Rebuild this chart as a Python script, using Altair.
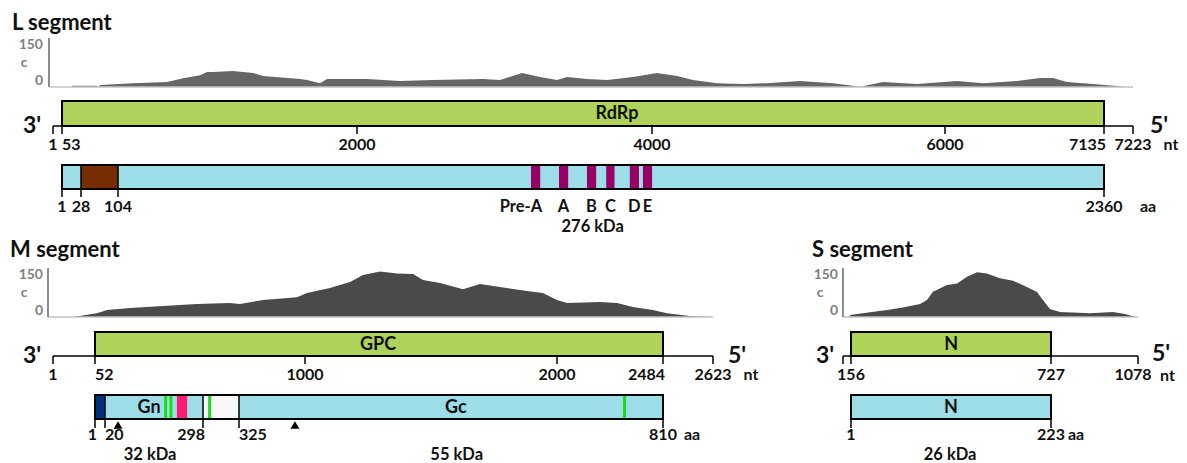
import altair as alt
import pandas as pd

# ---------------- data ----------------
# L segment
L_cov_nt = [119, 284, 295, 304, 522, 746, 852, 964, 1010, 1050, 1182, 1314, 1380, 1624, 1670, 1756, 1802,
            2068, 2292, 2515, 2854, 2970, 3119, 3241, 3356, 3424, 3559, 3695, 3871, 4034, 4171, 4280, 4444,
            4621, 4785, 5010, 5235, 5420, 5577, 5809, 6086, 6271, 6514, 6678, 6771, 6871, 7056, 7174, 7199]
L_cov_c = [4, 4, 0, 6, 12, 16, 27, 37, 47, 47, 50, 44, 34, 25, 22, 12, 25,
           25, 19, 22, 25, 22, 44, 31, 22, 31, 25, 22, 31, 44, 34, 22, 12,
           9, 12, 19, 12, 1, 16, 9, 19, 12, 19, 28, 28, 16, 9, 3, 0]
L_nt_ticks = [1, 53, 2000, 4000, 6000, 7135, 7223]
L_nt_labels = ["1", "53", "2000", "4000", "6000", "7135", "7223"]
L_nt_align = ["center", "left", "center", "center", "center", "right", "center"]
L_orf = [53, 7135]
L_orf_name = "RdRp"
L_aa_ticks = [1, 28, 104, 2360]
L_aa_labels = ["1", "28", "104", "2360"]
L_aa_align = ["center", "center", "center", "center"]
L_domain = [28, 104]
L_motif_names = ["Pre-A", "A", "B", "C", "D", "E"]
L_motif_start = [1049, 1113, 1177, 1221, 1275, 1305]
L_motif_end = [1070, 1134, 1198, 1240, 1296, 1326]
L_kda = "276 kDa"

# M segment
M_cov_nt = [25, 61, 106, 210, 359, 512, 661, 706, 810, 964, 1008, 1099, 1179, 1230, 1298, 1365, 1429,
            1468, 1536, 1627, 1694, 1774, 1881, 1944, 2000, 2046, 2196, 2274, 2347, 2438, 2495, 2559, 2623]
M_cov_c = [0, 12, 22, 28, 34, 41, 44, 41, 53, 62, 75, 91, 109, 131, 142, 136, 134,
           116, 106, 87, 103, 94, 81, 75, 53, 44, 47, 44, 31, 22, 12, 3, 0]
M_nt_ticks = [1, 52, 1000, 2000, 2484, 2623]
M_nt_labels = ["1", "52", "1000", "2000", "2484", "2623"]
M_nt_align = ["center", "left", "center", "center", "right", "center"]
M_orf = [52, 2484]
M_orf_name = "GPC"
M_aa_ticks = [1, 20, 298, 325, 810]
M_aa_labels = ["1", "20", "298", "325", "810"]
M_aa_align = ["right", "left", "right", "left", "center"]
M_signal = [1, 20]
M_gap = [298, 325]
M_green = [192, 207, 303, 766]
M_pink = [224, 253]
M_glyco = [57, 389]
M_parts = ["Gn", "Gc"]
M_parts_center = [145, 573]
M_kda = ["32 kDa", "55 kDa"]
M_kda_center = [148, 574]

# S segment
S_cov_nt = [137, 210, 259, 304, 353, 373, 390, 430, 459, 487, 516, 544, 581, 619, 658, 687, 704,
            724, 763, 884, 977, 1025, 1070]
S_cov_c = [6, 15, 22, 30, 41, 53, 79, 100, 105, 126, 140, 136, 121, 113, 94, 78, 53,
           25, 16, 12, 16, 9, 0]
S_nt_ticks = [1, 156, 727, 1078]
S_nt_labeled = [156, 727, 1078]
S_nt_labels = ["156", "727", "1078"]
S_orf = [156, 727]
S_orf_name = "N"
S_aa_ticks = [1, 223]
S_aa_labels = ["1", "223"]
S_kda = "26 kDa"

# ---------------- styling ----------------
FONT = "Lato"
INK = "#111111"
GREEN_FILL = "#afd35a"
BLUE_FILL = "#9cdde7"
BROWN = "#772d00"
MAGENTA = "#990066"
NAVY = "#00307a"
LIME = "#18dd18"
PINK = "#ff1a75"
COV_DARK = "#4a4a4a"
COV_L = "#666666"
AXIS_GRAY = "#8c8c8c"
LABEL_GRAY = "#808080"
NUM = 16
TOP = 12  # top padding of the view, in px


def Y(v):
    return v - TOP


def sc(domain, rng):
    return alt.Scale(domain=domain, range=rng, nice=False, zero=False)


# piecewise scales (figure is schematic, not strictly linear)
L_NT = lambda: sc(L_nt_ticks, [45, 54, 349, 644, 937, 1096, 1125])
L_AA = lambda: sc(L_aa_ticks, [54, 73, 110, 1096])
M_NT = lambda: sc(M_nt_ticks, [45, 87, 297, 549, 655, 705])
M_AA = lambda: sc(M_aa_ticks, [87, 97, 195, 231, 655])
S_NT = lambda: sc(S_nt_ticks, [835, 843, 1043, 1130])
S_AA = lambda: sc(S_aa_ticks, [843, 1043])


def rect(starts, ends, scale, y0, y1, fill, stroke=None, sw=2.0, filled=True):
    df = pd.DataFrame({"s": starts, "e": ends})
    kw = dict(strokeWidth=sw if stroke else 0)
    if stroke:
        kw["stroke"] = stroke
    if filled:
        kw["fill"] = fill
    else:
        kw["filled"] = False
        kw["fillOpacity"] = 0
    return alt.Chart(df).mark_rect(**kw).encode(
        x=alt.X("s:Q", scale=scale, axis=None), x2="e:Q",
        y=alt.value(Y(y0)), y2=alt.value(Y(y1)))


def vrules(vals, scale, y0, y1, color="black", sw=1.5):
    df = pd.DataFrame({"v": vals})
    return alt.Chart(df).mark_rule(color=color, strokeWidth=sw).encode(
        x=alt.X("v:Q", scale=scale, axis=None), y=alt.value(Y(y0)), y2=alt.value(Y(y1)))


def hline(a, b, scale, y, color="black", sw=1.5):
    df = pd.DataFrame({"a": [a], "b": [b]})
    return alt.Chart(df).mark_rule(color=color, strokeWidth=sw).encode(
        x=alt.X("a:Q", scale=scale, axis=None), x2="b:Q", y=alt.value(Y(y)))


def labels(vals, texts, scale, y, align="center", dx=0, size=NUM, color=INK, baseline="alphabetic"):
    df = pd.DataFrame({"v": vals, "t": texts})
    return alt.Chart(df).mark_text(align=align, baseline=baseline, dx=dx, font=FONT,
                                   fontWeight="bold", fontSize=size, color=color).encode(
        x=alt.X("v:Q", scale=scale, axis=None), y=alt.value(Y(y)), text="t:N")


def aligned_labels(vals, texts, aligns, scale_fn, y, size=NUM):
    out = []
    df = pd.DataFrame({"v": vals, "t": texts, "a": aligns})
    dxs = {"center": 0, "left": 0, "right": 2}
    for a in ["center", "left", "right"]:
        sub = df[df["a"] == a]
        if len(sub):
            out.append(labels(list(sub["v"]), list(sub["t"]), scale_fn(), y, align=a, dx=dxs[a], size=size))
    return out


def note(text, x, y, size, align="left", color=INK, baseline="alphabetic"):
    return alt.Chart(pd.DataFrame({"t": [text]})).mark_text(
        align=align, baseline=baseline, font=FONT, fontWeight="bold", fontSize=size, color=color).encode(
        x=alt.value(x), y=alt.value(Y(y)), text="t:N")


def coverage(nt, c, xscale, yrange, color):
    df = pd.DataFrame({"nt": nt, "c": c})
    rng = [Y(yrange[0]), Y(yrange[1])]
    return alt.Chart(df).mark_area(color=color, interpolate="linear").encode(
        x=alt.X("nt:Q", scale=xscale, axis=None),
        y=alt.Y("c:Q", scale=alt.Scale(domain=[0, 150], range=rng, nice=False, zero=False), axis=None),
        y2=alt.datum(0))


def cov_axis(x, yrange, x_end, lab_right, c_x):
    bottom, top = yrange
    one = pd.DataFrame({"k": [0]})
    base = alt.Chart(one).mark_rule(color="#c4c4c4", strokeWidth=1.5).encode(
        x=alt.value(x), x2=alt.value(x_end), y=alt.value(Y(bottom)))
    ax = alt.Chart(one).mark_rule(color=AXIS_GRAY, strokeWidth=2).encode(
        x=alt.value(x), y=alt.value(Y(top - 1)), y2=alt.value(Y(bottom)))
    return [base, ax,
            note("150", lab_right, top - 1, 14, align="right", color=LABEL_GRAY, baseline="top"),
            note("0", lab_right, bottom + 1, 14, align="right", color=LABEL_GRAY, baseline="bottom"),
            note("c", c_x, (top + bottom) / 2, 14, align="center", color=LABEL_GRAY, baseline="middle")]


layers = []

# ================= L segment =================
layers.append(note("L segment", 4, 22, 22))
layers += [coverage(L_cov_nt, L_cov_c, L_NT(), [79, 31], COV_L)]
layers += cov_axis(41, [79, 31], 1125, 35, 16)
layers.append(rect([L_orf[0]], [L_orf[1]], L_NT(), 93, 118, GREEN_FILL, stroke="black", sw=2))
layers.append(labels([(L_orf[0] + L_orf[1]) / 2 + 169], [L_orf_name], L_NT(), 111, size=18))
layers.append(hline(L_nt_ticks[0], L_nt_ticks[-1], L_NT(), 118))
layers.append(vrules(L_nt_ticks, L_NT(), 118, 126))
layers += aligned_labels(L_nt_ticks, L_nt_labels, L_nt_align, L_NT, 142)
layers.append(note("3'", 24, 125, 23, align="center"))
layers.append(note("5'", 1142, 125, 23))
layers.append(note("nt", 1163, 142, NUM, align="center"))
# protein
layers.append(rect([L_aa_ticks[0]], [L_aa_ticks[-1]], L_AA(), 157, 181, BLUE_FILL))
layers.append(rect(L_motif_start, L_motif_end, L_AA(), 157, 181, MAGENTA))
layers.append(rect([L_domain[0]], [L_domain[1]], L_AA(), 157, 181, BROWN, stroke="black", sw=1.5))
layers.append(rect([L_aa_ticks[0]], [L_aa_ticks[-1]], L_AA(), 157, 181, "none", stroke="black", sw=2, filled=False))
layers.append(vrules(L_aa_ticks, L_AA(), 181, 189))
layers += aligned_labels(L_aa_ticks, L_aa_labels, L_aa_align, L_AA, 204)
layers.append(note("aa", 1140, 204, NUM, align="center"))
mid = [(s + e) / 2 for s, e in zip(L_motif_start, L_motif_end)]
layers.append(labels(mid[1:], L_motif_names[1:], L_AA(), 204, size=16.5))
layers.append(labels([L_motif_end[0]], [L_motif_names[0]], L_AA(), 204, align="right", dx=2, size=16.5))
layers.append(labels([sum(L_motif_start) / len(L_motif_start)], [L_kda], L_AA(), 224, size=16.5))

# ================= M segment =================
layers.append(note("M segment", 2, 249, 22))
layers.append(coverage(M_cov_nt, M_cov_c, M_NT(), [309, 261], COV_DARK))
layers += cov_axis(40, [309, 261], 705, 35, 16)
layers.append(rect([M_orf[0]], [M_orf[1]], M_NT(), 324, 348, GREEN_FILL, stroke="black", sw=2))
layers.append(labels([1290], [M_orf_name], M_NT(), 342, size=18))
layers.append(hline(M_nt_ticks[0], M_nt_ticks[-1], M_NT(), 348))
layers.append(vrules(M_nt_ticks, M_NT(), 348, 356))
layers += aligned_labels(M_nt_ticks, M_nt_labels, M_nt_align, M_NT, 372)
layers.append(note("3'", 24, 355, 23, align="center"))
layers.append(note("5'", 720, 355, 23))
layers.append(note("nt", 743, 372, NUM, align="center"))
# protein
layers.append(rect([M_aa_ticks[0]], [M_aa_ticks[-1]], M_AA(), 387, 411, BLUE_FILL))
layers.append(rect([M_signal[0]], [M_signal[1]], M_AA(), 387, 411, NAVY))
layers.append(rect([M_gap[0]], [M_gap[1]], M_AA(), 387, 411, "#f8f8f8"))
layers.append(rect([M_pink[0]], [M_pink[1]], M_AA(), 387, 411, PINK))
layers.append(vrules(M_green, M_AA(), 387, 411, color=LIME, sw=3))
layers.append(vrules([M_signal[1], M_gap[0], M_gap[1]], M_AA(), 387, 411, sw=1.5))
layers.append(rect([M_aa_ticks[0]], [M_aa_ticks[-1]], M_AA(), 387, 411, "none", stroke="black", sw=2, filled=False))
layers.append(vrules(M_aa_ticks, M_AA(), 411, 420))
layers += aligned_labels(M_aa_ticks, M_aa_labels, M_aa_align, M_AA, 432)
layers.append(note("aa", 684, 432, NUM, align="center"))
layers.append(labels(M_parts_center, M_parts, M_AA(), 405, size=18))
layers.append(labels(M_kda_center, M_kda, M_AA(), 452, size=16.5))
layers.append(alt.Chart(pd.DataFrame({"v": M_glyco})).mark_point(
    shape="triangle-up", filled=True, color="black", size=80, opacity=1).encode(
    x=alt.X("v:Q", scale=M_AA(), axis=None), y=alt.value(Y(417))))

# ================= S segment =================
layers.append(note("S segment", 804, 249, 22))
layers.append(coverage(S_cov_nt, S_cov_c, S_NT(), [309, 261], COV_DARK))
layers += cov_axis(835, [309, 261], 1130, 830, 812)
layers.append(rect([S_orf[0]], [S_orf[1]], S_NT(), 324, 348, GREEN_FILL, stroke="black", sw=2))
layers.append(labels([442], [S_orf_name], S_NT(), 342, size=18))
layers.append(hline(S_nt_ticks[0], S_nt_ticks[-1], S_NT(), 348))
layers.append(vrules(S_nt_ticks, S_NT(), 348, 356))
layers.append(labels(S_nt_labeled[:2], S_nt_labels[:2], S_NT(), 372))
layers.append(labels(S_nt_labeled[2:], S_nt_labels[2:], S_NT(), 372, dx=-5))
layers.append(note("3'", 817, 355, 23, align="center"))
layers.append(note("5'", 1144, 353, 23))
layers.append(note("nt", 1152, 373, NUM, align="left"))
layers.append(rect([S_aa_ticks[0]], [S_aa_ticks[-1]], S_AA(), 387, 411, BLUE_FILL, stroke="black", sw=2))
layers.append(labels([112], [S_orf_name], S_AA(), 405, size=18))
layers.append(vrules(S_aa_ticks, S_AA(), 411, 420))
layers.append(labels(S_aa_ticks, S_aa_labels, S_AA(), 432))
layers.append(note("aa", 1068, 432, NUM, align="center"))
layers.append(labels([111], [S_kda], S_AA(), 452, size=16.5))

chart = alt.layer(*layers).resolve_scale(x="independent", y="independent").properties(
    width=1171, height=455 - TOP,
    padding={"top": TOP, "left": 0, "right": 0, "bottom": 0},
    autosize=alt.AutoSizeParams(type="none")
).configure_view(stroke=None)

chart.save("out.html", embed_options={"renderer": "svg", "actions": False})
